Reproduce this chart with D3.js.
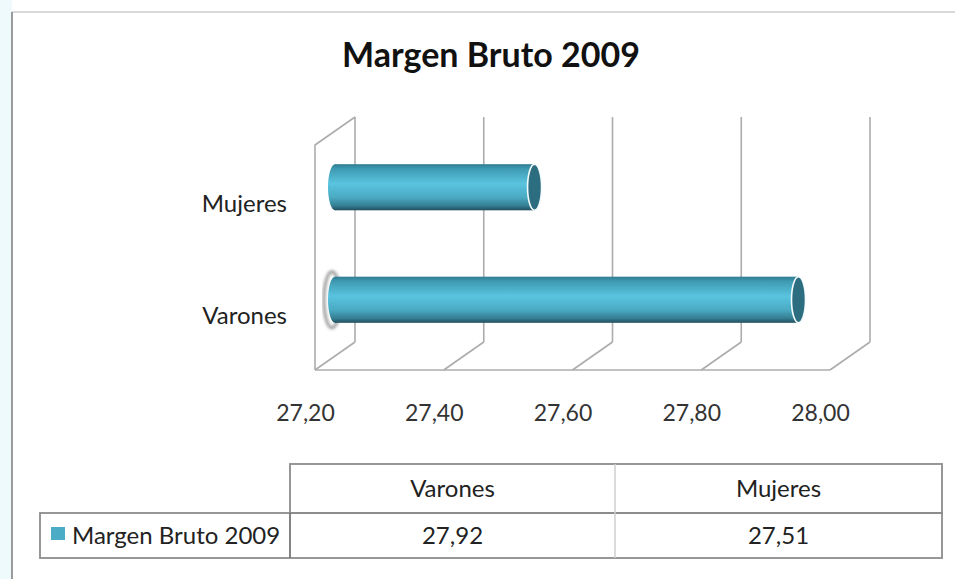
<!DOCTYPE html>
<html>
<head>
<meta charset="utf-8">
<script src="https://cdn.jsdelivr.net/npm/d3@7"></script>
<style>
  body { margin: 0; background: #fff; }
  text { font-family: Lato, "Open Sans", sans-serif; }
</style>
</head>
<body>
<div id="container"></div>
<script>
/* DATA */
const title = "Margen Bruto 2009";
const seriesName = "Margen Bruto 2009";
const categories = ["Varones", "Mujeres"];
const values = [27.92, 27.51];
const tickValues = [27.2, 27.4, 27.6, 27.8, 28.0];

/* CONSTANTS */
const width = 955,
  height = 579,
  front = { left: 315, right: 830, top: 145, bottom: 370 },
  depth = { dx: 40, dy: -28 },
  barColor = "#4bacc6",
  gridColor = "#acacac";

const locale = d3.formatLocale({ decimal: ",", thousands: ".", grouping: [3], currency: ["", ""] });
const fmt = locale.format(".2f");

const svg = d3.select("#container")
  .append("svg")
  .attr("width", width)
  .attr("height", height);

// outer frame
svg.append("rect").attr("x", 0).attr("y", 0).attr("width", 12).attr("height", height).attr("fill", "#eefafc");
svg.append("line").attr("x1", 12).attr("x2", width).attr("y1", 12).attr("y2", 12)
  .attr("stroke", "#d9d9d9").attr("stroke-width", 2);
svg.append("line").attr("x1", 12).attr("x2", 12).attr("y1", 12).attr("y2", height)
  .attr("stroke", "#9a9a9a").attr("stroke-width", 2);

// title
svg.append("text")
  .attr("x", 491).attr("y", 67)
  .attr("text-anchor", "middle")
  .style("font-size", "34px")
  .style("font-weight", "bold")
  .style("fill", "#111")
  .text(title);

/* SCALES */
// front plane x scale, bars sit at half depth
const xScale = d3.scaleLinear()
  .domain([tickValues[0], tickValues[tickValues.length - 1]])
  .range([front.left, front.right]);

const yScale = d3.scaleBand()
  .domain(categories.slice().reverse())
  .range([front.top + depth.dy / 2, front.bottom + depth.dy / 2])
  .paddingInner(0.59)
  .paddingOuter(0.295);

/* GRID (3D box) */
const grid = svg.append("g")
  .attr("fill", "none")
  .attr("stroke", gridColor)
  .attr("stroke-width", 1.6);

// back wall verticals
grid.selectAll(".back")
  .data(tickValues)
  .join("line")
  .attr("x1", d => xScale(d) + depth.dx).attr("x2", d => xScale(d) + depth.dx)
  .attr("y1", front.top + depth.dy).attr("y2", front.bottom + depth.dy);

// floor diagonals
grid.selectAll(".floor")
  .data(tickValues)
  .join("line")
  .attr("x1", d => xScale(d)).attr("x2", d => xScale(d) + depth.dx)
  .attr("y1", front.bottom).attr("y2", front.bottom + depth.dy);

// front floor edge and left wall
grid.append("line")
  .attr("x1", front.left).attr("x2", front.right)
  .attr("y1", front.bottom).attr("y2", front.bottom);
grid.append("path")
  .attr("d", `M${front.left},${front.bottom}V${front.top}L${front.left + depth.dx},${front.top + depth.dy}`);

/* AXES */
const xAxis = d3.axisBottom(xScale)
  .tickValues(tickValues)
  .tickFormat(fmt)
  .tickSize(0)
  .tickPadding(0);
const gx = svg.append("g")
  .attr("transform", `translate(-10,${front.bottom + 35})`)
  .call(xAxis);
gx.select(".domain").remove();
gx.selectAll("text")
  .style("font-family", "Lato, sans-serif")
  .style("font-size", "23px")
  .style("fill", "#333");

const yAxis = d3.axisLeft(yScale).tickSize(0).tickPadding(0);
const gy = svg.append("g")
  .attr("transform", `translate(287,17)`)
  .call(yAxis);
gy.select(".domain").remove();
gy.selectAll("text")
  .style("font-family", "Lato, sans-serif")
  .style("font-size", "24px")
  .style("fill", "#222");

/* BARS (cylinders) */
const defs = svg.append("defs");
const grad = defs.append("linearGradient")
  .attr("id", "cyl").attr("x1", 0).attr("x2", 0).attr("y1", 0).attr("y2", 1);
[[0, "#2e7c91"], [0.1, "#3e9ab2"], [0.42, "#5ac4df"], [0.72, "#4aaac3"], [0.9, "#357f93"], [1, "#214f5d"]]
  .forEach(([o, c]) => grad.append("stop").attr("offset", o).attr("stop-color", c));
defs.append("filter").attr("id", "blur")
  .append("feGaussianBlur").attr("stdDeviation", 1.6);

const rx = 7;
const x0 = xScale(tickValues[0]) + depth.dx / 2;
const bars = svg.selectAll(".bar")
  .data(categories.map((c, i) => ({ cat: c, value: values[i] })))
  .join("g")
  .attr("class", "bar");

// soft grey ring behind the first bar start
bars.filter(d => d.cat === categories[0])
  .append("ellipse")
  .attr("cx", x0 - 3)
  .attr("cy", d => yScale(d.cat) + yScale.bandwidth() / 2)
  .attr("rx", rx + 1)
  .attr("ry", yScale.bandwidth() / 2 + 5)
  .attr("fill", "none")
  .attr("stroke", "#9a9a9a")
  .attr("stroke-width", 3)
  .attr("filter", "url(#blur)");

bars.append("ellipse")
  .attr("cx", x0)
  .attr("cy", d => yScale(d.cat) + yScale.bandwidth() / 2)
  .attr("rx", rx)
  .attr("ry", yScale.bandwidth() / 2)
  .attr("fill", "url(#cyl)");

bars.append("rect")
  .attr("x", x0)
  .attr("y", d => yScale(d.cat))
  .attr("width", d => xScale(d.value) + depth.dx / 2 - x0)
  .attr("height", yScale.bandwidth())
  .attr("fill", "url(#cyl)");

bars.append("ellipse")
  .attr("cx", d => xScale(d.value) + depth.dx / 2)
  .attr("cy", d => yScale(d.cat) + yScale.bandwidth() / 2)
  .attr("rx", rx)
  .attr("ry", yScale.bandwidth() / 2)
  .attr("fill", "#2c6d80")
  .attr("stroke", "#f4fbfd")
  .attr("stroke-width", 1.6);

/* DATA TABLE */
const table = { left: 40, colX: [290, 615, 942], top: 464, mid: 513, bottom: 558 };
const t = svg.append("g");

// header row
t.append("rect")
  .attr("x", table.colX[0]).attr("y", table.top)
  .attr("width", table.colX[2] - table.colX[0]).attr("height", table.mid - table.top)
  .attr("fill", "none").attr("stroke", "#8c8c8c").attr("stroke-width", 1.8);
// value row
t.append("rect")
  .attr("x", table.left).attr("y", table.mid)
  .attr("width", table.colX[2] - table.left).attr("height", table.bottom - table.mid)
  .attr("fill", "none").attr("stroke", "#8c8c8c").attr("stroke-width", 1.8);
t.append("line")
  .attr("x1", table.colX[0]).attr("x2", table.colX[0])
  .attr("y1", table.mid).attr("y2", table.bottom)
  .attr("stroke", "#777").attr("stroke-width", 1.8);
t.append("line")
  .attr("x1", table.colX[1]).attr("x2", table.colX[1])
  .attr("y1", table.top).attr("y2", table.bottom)
  .attr("stroke", "#cfcfcf").attr("stroke-width", 1.5);

categories.forEach((c, i) => {
  const cx = (table.colX[i] + table.colX[i + 1]) / 2;
  t.append("text")
    .attr("x", cx).attr("y", (table.top + table.mid) / 2 + 8)
    .attr("text-anchor", "middle")
    .style("font-size", "24px").style("fill", "#222")
    .text(c);
  t.append("text")
    .attr("x", cx).attr("y", (table.mid + table.bottom) / 2 + 8)
    .attr("text-anchor", "middle")
    .style("font-size", "24px").style("fill", "#222")
    .text(fmt(values[i]));
});

t.append("rect")
  .attr("x", 51).attr("y", 527)
  .attr("width", 14).attr("height", 13)
  .attr("fill", barColor);
t.append("text")
  .attr("x", 72).attr("y", (table.mid + table.bottom) / 2 + 8)
  .style("font-size", "24px").style("fill", "#222")
  .text(seriesName);
</script>
</body>
</html>
